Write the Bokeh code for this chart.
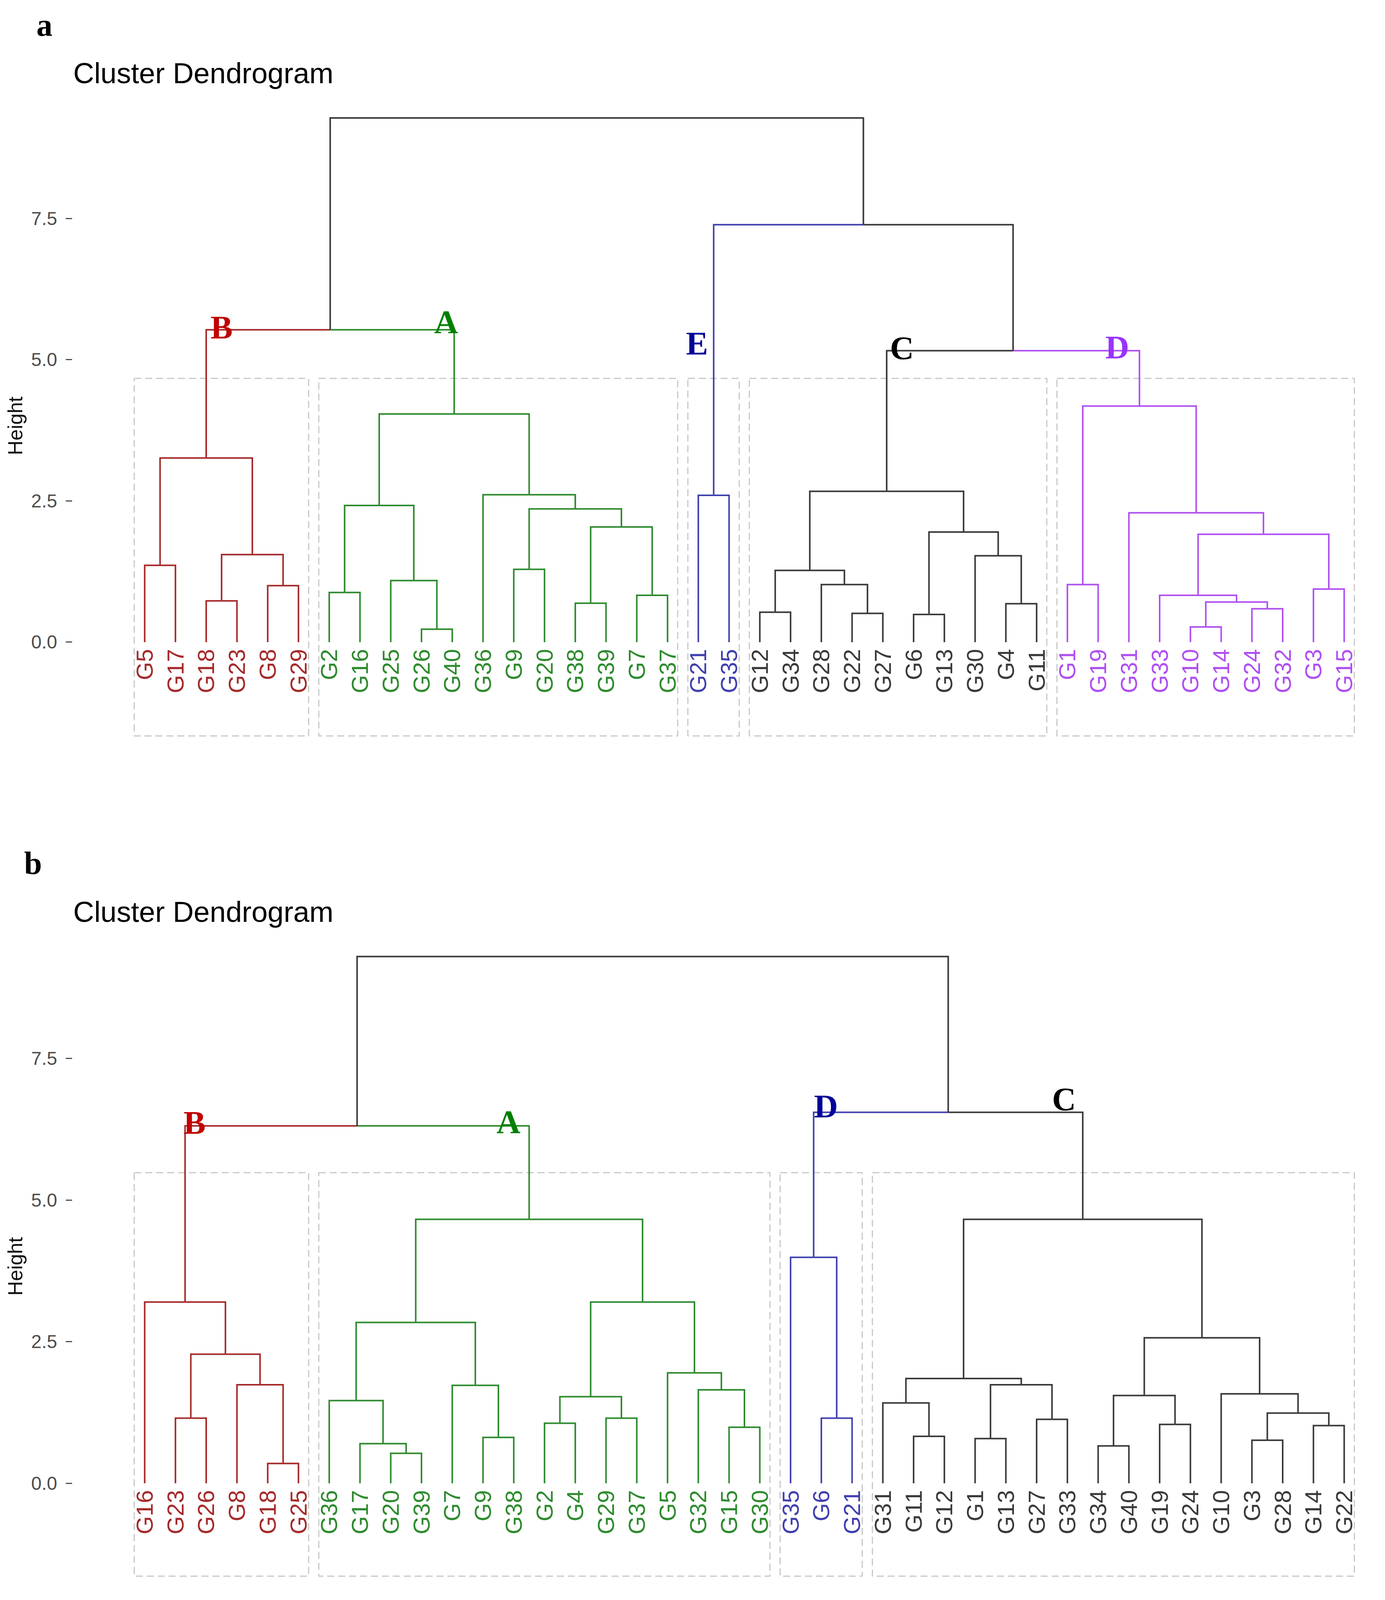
import math
from bokeh.plotting import figure
from bokeh.models import ColumnDataSource, Range1d, FixedTicker, PrintfTickFormatter
from bokeh.layouts import column
from bokeh.core.properties import value
from bokeh.embed import file_html
from bokeh.resources import INLINE

# ------------------------------------------------------------------ data
y_ticks = [0.0, 2.5, 5.0, 7.5]
y_tick_labels = ["0.0", "2.5", "5.0", "7.5"]

# panel a
leaves_a = ["G5", "G17", "G18", "G23", "G8", "G29",
            "G2", "G16", "G25", "G26", "G40", "G36", "G9", "G20", "G38", "G39", "G7", "G37",
            "G21", "G35",
            "G12", "G34", "G28", "G22", "G27", "G6", "G13", "G30", "G4", "G11",
            "G1", "G19", "G31", "G33", "G10", "G14", "G24", "G32", "G3", "G15"]
cluster_names_a = ["B", "A", "E", "C", "D"]
cluster_sizes_a = [6, 12, 2, 10, 10]
# (left, right, height); int = earlier merge (1-based), str = leaf
merges_a = [
    ("G18", "G23", 0.73), ("G8", "G29", 1.00), ("G5", "G17", 1.36), (1, 2, 1.55), (3, 4, 3.26),
    ("G26", "G40", 0.23), ("G2", "G16", 0.88), ("G25", 6, 1.09), (7, 8, 2.42),
    ("G38", "G39", 0.69), ("G7", "G37", 0.83), (10, 11, 2.04), ("G9", "G20", 1.29),
    (13, 12, 2.36), ("G36", 14, 2.61), (9, 15, 4.04), (5, 16, 5.53),
    ("G21", "G35", 2.60),
    ("G12", "G34", 0.53), ("G22", "G27", 0.51), ("G28", 20, 1.02), (19, 21, 1.27),
    ("G6", "G13", 0.49), ("G4", "G11", 0.68), ("G30", 24, 1.53), (23, 25, 1.95), (22, 26, 2.67),
    ("G1", "G19", 1.02), ("G10", "G14", 0.27), ("G24", "G32", 0.59), (29, 30, 0.71),
    ("G33", 31, 0.83), ("G3", "G15", 0.94), (32, 33, 1.91), ("G31", 34, 2.29), (28, 35, 4.18),
    (27, 36, 5.16), (18, 37, 7.39), (17, 38, 9.28),
]
lower_rect_a = -1.66
letters_a = ["B", "A", "E", "C", "D"]
letters_a_x = [3.50, 10.80, 18.96, 25.62, 32.62]
letters_a_y = [5.57, 5.67, 5.29, 5.21, 5.22]

# panel b
leaves_b = ["G16", "G23", "G26", "G8", "G18", "G25",
            "G36", "G17", "G20", "G39", "G7", "G9", "G38", "G2", "G4", "G29", "G37", "G5", "G32", "G15", "G30",
            "G35", "G6", "G21",
            "G31", "G11", "G12", "G1", "G13", "G27", "G33", "G34", "G40", "G19", "G24", "G10", "G3", "G28", "G14", "G22"]
cluster_names_b = ["B", "A", "D", "C"]
cluster_sizes_b = [6, 15, 3, 16]
merges_b = [
    ("G18", "G25", 0.35), ("G8", 1, 1.74), ("G23", "G26", 1.15), (3, 2, 2.28), ("G16", 4, 3.20),
    ("G20", "G39", 0.53), ("G17", 6, 0.70), ("G36", 7, 1.46), ("G9", "G38", 0.81), ("G7", 9, 1.73),
    (8, 10, 2.84), ("G2", "G4", 1.06), ("G29", "G37", 1.15), (12, 13, 1.53), ("G15", "G30", 0.99),
    ("G32", 15, 1.65), ("G5", 16, 1.95), (14, 17, 3.20), (11, 18, 4.66), (5, 19, 6.31),
    ("G6", "G21", 1.15), ("G35", 21, 3.99),
    ("G11", "G12", 0.83), ("G31", 23, 1.42), ("G1", "G13", 0.79), ("G27", "G33", 1.13),
    (25, 26, 1.74), (24, 27, 1.85), ("G34", "G40", 0.66), ("G19", "G24", 1.04), (29, 30, 1.55),
    ("G3", "G28", 0.76), ("G14", "G22", 1.02), (32, 33, 1.24), ("G10", 34, 1.58), (31, 35, 2.57),
    (28, 36, 4.66), (22, 37, 6.55), (20, 38, 9.30),
]
lower_rect_b = -1.64
letters_b = ["B", "A", "D", "C"]
letters_b_x = [2.62, 12.83, 23.15, 30.89]
letters_b_y = [6.37, 6.38, 6.66, 6.78]

# ------------------------------------------------------------------ styles
RED, GREEN, BLUE, BLACK, PURPLE = "#A52A2A", "#2E8B2E", "#4040B0", "#3A3A3A", "#B050F0"
line_colors_a = [RED, GREEN, BLUE, BLACK, PURPLE]
line_colors_b = [RED, GREEN, BLUE, BLACK]
letter_colors_a = ["#C00000", "#008000", "#000099", "#000000", "#9933FF"]
letter_colors_b = ["#C00000", "#008000", "#000099", "#000000"]
SANS = "Liberation Sans"
SERIF = "Liberation Serif"
W = 3530
X_START, X_END = -3.698, 41.13
AXIS_X = -1.362


def build(leaves, sizes, merges, line_colors, letters, lx, ly, lcolors, lower_rect,
          height, y_end, y_start, tag, tag_x, tag_y, title_y):
    p = figure(width=W, height=height, x_range=Range1d(X_START, X_END),
               y_range=Range1d(y_start, y_end), x_axis_location=None,
               y_axis_location="left", toolbar_location=None, output_backend="svg",
               min_border_left=0, min_border_right=0, min_border_top=0,
               min_border_bottom=0)
    p.grid.grid_line_color = None
    p.outline_line_color = None
    p.background_fill_color = "white"
    p.border_fill_color = "white"

    ax = p.yaxis[0]
    ax.fixed_location = AXIS_X
    ax.ticker = FixedTicker(ticks=y_ticks)
    ax.formatter = PrintfTickFormatter(format="%.1f")
    ax.major_label_overrides = {t: s for t, s in zip(y_ticks, y_tick_labels)}
    ax.axis_line_color = None
    ax.major_tick_in = 0
    ax.major_tick_out = 16
    ax.major_tick_line_width = 3
    ax.major_tick_line_color = "#4D4D4D"
    ax.minor_tick_line_color = None
    ax.major_label_text_font = SANS
    ax.major_label_text_font_size = "48px"
    ax.major_label_text_color = "#4D4D4D"
    ax.major_label_standoff = 22

    # cluster membership of leaves
    leaf_cluster = []
    for ci, s in enumerate(sizes):
        leaf_cluster += [ci] * s
    leaf_index = {name: i for i, name in enumerate(leaves)}

    # dashed rectangles around the clusters
    heights = sorted((m[2] for m in merges), reverse=True)
    k = len(sizes)
    rect_top = (heights[k - 2] + heights[k - 1]) / 2.0
    lefts, rights = [], []
    start = 0
    for s in sizes:
        lefts.append(start + 0.66)
        rights.append(start + s + 0.33)
        start += s
    p.quad(left=lefts, right=rights, top=[rect_top] * k, bottom=[lower_rect] * k,
           fill_color=None, line_color="#C8C8C8", line_dash="18 10", line_width=3)

    # dendrogram branches
    nodes = []

    def ref(r):
        if isinstance(r, int):
            return nodes[r - 1]
        i = leaf_index[r]
        return {"x": i + 1.0, "h": 0.0, "cl": {leaf_cluster[i]}}

    bx, by, bc = [], [], []
    for l, r, h in merges:
        L, R = ref(l), ref(r)
        node = {"x": (L["x"] + R["x"]) / 2.0, "h": h, "cl": L["cl"] | R["cl"]}
        for c in (L, R):
            bx.append([node["x"], c["x"], c["x"]])
            by.append([h, h, c["h"]])
            bc.append(line_colors[next(iter(c["cl"]))] if len(c["cl"]) == 1 else BLACK)
        nodes.append(node)
    p.multi_line(xs=bx, ys=by, line_color=bc, line_width=4, line_join="miter")

    # leaf labels
    src = ColumnDataSource(dict(
        x=[i + 1.0 for i in range(len(leaves))],
        y=[-0.12] * len(leaves),
        t=leaves,
        c=[line_colors[leaf_cluster[i]] for i in range(len(leaves))],
    ))
    p.text(x="x", y="y", text="t", source=src, angle=math.pi / 2, text_align="right",
           text_baseline="middle", text_font=value(SANS), text_font_size="60px",
           text_color="c")

    # cluster letters
    lsrc = ColumnDataSource(dict(x=lx, y=ly, t=letters, c=lcolors))
    p.text(x="x", y="y", text="t", source=lsrc, text_align="center",
           text_baseline="alphabetic", text_font=value(SERIF), text_font_style="bold",
           text_font_size="85px", text_color="c")

    # title
    p.text(x=[-1.324], y=[title_y], text=["Cluster Dendrogram"], text_align="left",
           text_baseline="alphabetic", text_font=value(SANS), text_font_size="74px",
           text_color="#000000")

    # y axis title
    p.text(x=[-3.203], y=[3.83], text=["Height"], angle=math.pi / 2, text_align="center",
           text_baseline="middle", text_font=value(SANS), text_font_size="52px",
           text_color="#111111")

    # panel tag
    p.text(x=[tag_x], y=[tag_y], text=[tag], text_align="left",
           text_baseline="alphabetic", text_font=value(SERIF), text_font_style="bold",
           text_font_size="82px", text_color="#000000")
    return p


pa = build(leaves_a, cluster_sizes_a, merges_a, line_colors_a, letters_a, letters_a_x,
           letters_a_y, letter_colors_a, lower_rect_a, height=2152,
           y_end=11.365, y_start=-3.517, tag="a", tag_x=-2.52, tag_y=10.92, title_y=10.07)
pb = build(leaves_b, cluster_sizes_b, merges_b, line_colors_b, letters_b, letters_b_x,
           letters_b_y, letter_colors_b, lower_rect_b, height=1928,
           y_end=11.343, y_start=-1.953, tag="b", tag_x=-2.92, tag_y=10.95, title_y=10.09)

layout = column(pa, pb)
open("out.html", "w").write(file_html(layout, INLINE))
